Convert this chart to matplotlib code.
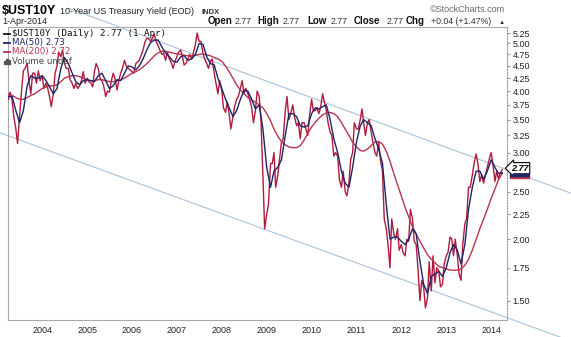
import numpy as np
import pandas as pd
import matplotlib
matplotlib.use("Agg")
import matplotlib.pyplot as plt
from matplotlib.lines import Line2D
from matplotlib.patches import Rectangle
from matplotlib.ticker import FixedLocator, FixedFormatter, NullLocator

plt.rcParams['font.family'] = ['Liberation Sans', 'DejaVu Sans']

# 10-year yield, sampled on the 1st and 15th of each month, Apr 2003 .. 1 Apr 2014
y2003 = [3.85, 3.98, 3.85, 3.55, 3.35, 3.13, 3.55, 3.95, 4.40, 4.45, 4.55, 4.20,
         3.95, 4.35, 4.35, 4.15, 4.40, 4.20]
y2004 = [4.30, 4.05, 4.15, 4.05, 3.90, 3.72, 3.95, 4.35, 4.50, 4.80, 4.70, 4.85,
         4.55, 4.45, 4.45, 4.22, 4.15, 4.05, 4.15, 4.05, 4.10, 4.20, 4.38, 4.15]
y2005 = [4.25, 4.18, 4.15, 4.08, 4.38, 4.55, 4.45, 4.25, 4.20, 4.10, 3.90, 4.00,
         3.98, 4.18, 4.35, 4.25, 4.02, 4.20, 4.35, 4.45, 4.62, 4.50, 4.45, 4.42]
y2006 = [4.38, 4.35, 4.55, 4.58, 4.62, 4.72, 4.85, 5.02, 5.12, 5.12, 5.05, 5.12,
         5.22, 5.05, 4.95, 4.85, 4.75, 4.78, 4.62, 4.80, 4.65, 4.58, 4.45, 4.58]
y2007 = [4.70, 4.80, 4.85, 4.70, 4.52, 4.55, 4.65, 4.75, 4.65, 4.78, 4.98, 5.25,
         5.05, 5.05, 4.78, 4.65, 4.55, 4.45, 4.60, 4.65, 4.35, 4.15, 3.95, 4.20]
y2008 = [4.02, 3.70, 3.62, 3.80, 3.60, 3.35, 3.55, 3.72, 3.85, 3.90, 4.05, 4.20,
         3.95, 4.05, 3.95, 3.85, 3.70, 3.45, 3.65, 4.00, 3.90, 3.50, 2.70, 2.10]
y2009 = [2.25, 2.35, 2.85, 2.85, 3.00, 2.55, 2.70, 2.90, 3.15, 3.20, 3.65, 3.90,
         3.50, 3.60, 3.75, 3.55, 3.40, 3.45, 3.20, 3.45, 3.45, 3.35, 3.25, 3.55]
y2010 = [3.85, 3.65, 3.65, 3.70, 3.60, 3.70, 3.95, 3.80, 3.65, 3.45, 3.30, 3.25,
         2.95, 3.00, 2.95, 2.65, 2.55, 2.75, 2.50, 2.45, 2.60, 2.90, 3.00, 3.45]
y2011 = [3.35, 3.35, 3.50, 3.68, 3.45, 3.25, 3.45, 3.50, 3.30, 3.15, 3.00, 2.95,
         3.15, 2.90, 2.75, 2.20, 2.10, 1.95, 1.75, 2.20, 2.05, 2.00, 2.10, 1.90]
y2012 = [1.95, 1.88, 1.85, 2.00, 1.98, 2.30, 2.20, 1.98, 1.95, 1.75, 1.50, 1.65,
         1.60, 1.45, 1.52, 1.80, 1.57, 1.85, 1.63, 1.75, 1.72, 1.60, 1.62, 1.78]
y2013 = [1.85, 1.88, 2.02, 2.00, 1.85, 2.00, 1.85, 1.70, 1.65, 1.95, 2.15, 2.20,
         2.55, 2.55, 2.70, 2.85, 2.98, 2.85, 2.62, 2.70, 2.60, 2.70, 2.80, 2.90]
y2014 = [3.00, 2.85, 2.62, 2.75, 2.65, 2.72, 2.77]
ust10y = y2003 + y2004 + y2005 + y2006 + y2007 + y2008 + y2009 + y2010 + y2011 + y2012 + y2013 + y2014

# moving averages, read monthly (1st of month), Apr 2003 .. Apr 2014
ma50 = [3.90, 3.90, 3.65, 3.45, 3.65, 4.10, 4.30, 4.25, 4.25,
        4.30, 4.20, 4.08, 3.95, 4.05, 4.45, 4.68, 4.55, 4.35, 4.18, 4.12, 4.20,
        4.22, 4.20, 4.18, 4.30, 4.35, 4.20, 4.05, 4.10, 4.22, 4.20, 4.35, 4.50,
        4.48, 4.42, 4.50, 4.65, 4.85, 5.02, 5.08, 5.08, 4.92, 4.78, 4.70, 4.60,
        4.58, 4.70, 4.72, 4.62, 4.65, 4.75, 5.00, 4.98, 4.70, 4.55, 4.52, 4.25,
        4.05, 3.85, 3.70, 3.55, 3.65, 3.85, 4.02, 4.00, 3.85, 3.68, 3.75, 3.35,
        2.80, 2.55, 2.75, 2.80, 2.90, 3.25, 3.60, 3.60, 3.55, 3.40, 3.38, 3.40,
        3.60, 3.70, 3.68, 3.72, 3.75, 3.50, 3.20, 3.00, 2.75, 2.60, 2.55, 2.80,
        3.15, 3.40, 3.50, 3.45, 3.40, 3.20, 3.05, 2.85, 2.35, 2.00, 2.02, 2.02,
        1.98, 1.95, 2.00, 2.10, 2.05, 1.80, 1.62, 1.55, 1.68, 1.70, 1.72, 1.68,
        1.75, 1.88, 1.95, 1.90, 1.78, 1.95, 2.30, 2.55, 2.75, 2.75, 2.65, 2.75,
        2.90, 2.80, 2.72, 2.73]
ma200 = [3.95, 3.92, 3.88, 3.85, 3.85, 3.88, 3.92, 3.95, 4.00,
         4.05, 4.08, 4.10, 4.10, 4.12, 4.18, 4.25, 4.28, 4.30, 4.30, 4.28, 4.25,
         4.22, 4.20, 4.20, 4.22, 4.22, 4.20, 4.18, 4.18, 4.20, 4.22, 4.25, 4.30,
         4.35, 4.38, 4.42, 4.48, 4.55, 4.63, 4.72, 4.78, 4.82, 4.82, 4.80, 4.78,
         4.76, 4.75, 4.73, 4.72, 4.72, 4.73, 4.75, 4.76, 4.74, 4.72, 4.68, 4.65,
         4.60, 4.50, 4.38, 4.25, 4.12, 4.02, 3.95, 3.88, 3.83, 3.80, 3.75, 3.70,
         3.60, 3.48, 3.35, 3.24, 3.16, 3.11, 3.08, 3.07, 3.07, 3.10, 3.18, 3.28,
         3.38, 3.46, 3.52, 3.58, 3.61, 3.62, 3.60, 3.55, 3.45, 3.35, 3.25, 3.15,
         3.08, 3.03, 3.02, 3.05, 3.10, 3.15, 3.16, 3.12, 3.02, 2.88, 2.72, 2.58,
         2.45, 2.32, 2.22, 2.12, 2.05, 1.98, 1.92, 1.86, 1.82, 1.79, 1.76, 1.75,
         1.74, 1.73, 1.73, 1.73, 1.74, 1.77, 1.82, 1.90, 2.00, 2.10, 2.20, 2.30,
         2.42, 2.53, 2.64, 2.72]

# trend channel anchors (date, yield)
upper_dates = ['2004-07-31', '2015-10-13']
upper_vals = [5.90, 2.48]
lower_dates = ['2003-01-24', '2015-07-15']
lower_vals = [3.29, 1.265]

ytick_vals = [1.50, 1.75, 2.00, 2.25, 2.50, 3.00, 3.25, 3.50, 3.75, 4.00, 4.25, 4.50, 4.75, 5.00, 5.25]
years = list(range(2004, 2015))

price_dates = pd.date_range('2003-04-01', periods=len(ust10y), freq='SMS')
ma_dates = pd.date_range('2003-04-01', periods=len(ma50), freq='MS')

W, H = 571, 337
fig = plt.figure(figsize=(W / 100, H / 100), dpi=100)
ax = fig.add_axes([8 / W, 1 - 320 / H, (507 - 8) / W, (320 - 27) / H])

ax.plot(price_dates, ust10y, color='#b01a3c', lw=1.0, zorder=3)
ax.plot(ma_dates, ma200, color='#b8334f', lw=1.0, zorder=4)
ax.plot(ma_dates, ma50, color='#1e2468', lw=1.0, zorder=5)

chan = '#a9c3dc'
ax.plot(pd.to_datetime(upper_dates), upper_vals, color=chan, lw=0.8, clip_on=False, zorder=2)
ax.plot(pd.to_datetime(lower_dates), lower_vals, color=chan, lw=0.8, clip_on=False, zorder=2)

ax.set_yscale('log')
ax.set_ylim(1.37, 5.40)
ax.set_xlim(pd.Timestamp('2003-03-29'), pd.Timestamp('2014-05-10'))
ax.yaxis.set_major_locator(FixedLocator(ytick_vals))
ax.yaxis.set_major_formatter(FixedFormatter(['%.2f' % v for v in ytick_vals]))
ax.yaxis.set_minor_locator(NullLocator())
ax.yaxis.tick_right()
ax.tick_params(axis='y', labelsize=6.5, length=2, pad=2, color='#999999', labelcolor='#222222')

ax.set_xticks([pd.Timestamp('%d-01-01' % y) for y in years])
ax.set_xticklabels([str(y) for y in years])
ax.xaxis.set_minor_locator(NullLocator())
ax.tick_params(axis='x', labelsize=6.5, length=0, pad=4, labelcolor='#222222')

for s in ['left', 'bottom', 'top']:
    ax.spines[s].set_color('#aaaaaa')
    ax.spines[s].set_linewidth(0.8)
ax.spines['right'].set_color('#999999')
ax.spines['right'].set_linestyle((0, (1, 1.5)))
ax.spines['right'].set_linewidth(0.8)

# last value tag, with the two MA tags peeking out below it
fig.add_artist(Rectangle((510 / W, 1 - 178 / H), 19 / W, 2 / H, color='#b8334f',
                         transform=fig.transFigure, zorder=6))
fig.add_artist(Rectangle((510 / W, 1 - 176 / H), 19 / W, 2.5 / H, color='#1e2468',
                         transform=fig.transFigure, zorder=6))
ax.annotate('2.77', xy=(1.0, 2.77), xycoords=('axes fraction', 'data'), xytext=(3, 1),
            textcoords='offset points', ha='left', va='center', fontsize=6.5,
            fontstyle='italic', fontweight='bold', color='black',
            bbox=dict(boxstyle='larrow,pad=0.12', fc='white', ec='black', lw=0.8), zorder=8,
            annotation_clip=False)


def ftxt(x, y, s, **kw):
    fig.text(x / W, 1 - y / H, s, va='baseline', **kw)


# header
ftxt(2, 14, '$UST10Y', fontsize=9, fontweight='bold')
ftxt(60, 14, '10-Year US Treasury Yield (EOD)', fontsize=6.5, color='#222222')
ftxt(202, 14, 'INDX', fontsize=5.5, fontweight='bold', color='#333333')
ftxt(2, 24.5, '1-Apr-2014', fontsize=6.5, color='#222222')
ftxt(505, 12, '\u00a9StockCharts.com', fontsize=6.5, color='#666666', ha='right')

pieces = [(208, 'Open', True), (235, '2.77', False), (257, 'High', True), (283, '2.77', False),
          (307, 'Low', True), (331, '2.77', False), (354, 'Close', True), (387, '2.77', False),
          (406, 'Chg', True), (431, '+0.04 (+1.47%)', False), (499, '\u25b2', False)]
for x, s, b in pieces:
    ftxt(x, 24.5, s, fontsize=7 if b else 6.3 if s != '\u25b2' else 4.5,
         fontweight='bold' if b else 'normal', color='#111111' if b else '#333333')

# legend
legend_rows = [(36, '#111111', '$UST10Y (Daily) 2.77 (1 Apr)', 'DejaVu Sans Mono', '#111111', 6.6),
               (45, '#1e2468', 'MA(50) 2.73', 'DejaVu Sans', '#1e2468', 6.2),
               (54, '#b8334f', 'MA(200) 2.72', 'DejaVu Sans', '#b8334f', 6.2)]
for y, c, s, fam, tc, fs in legend_rows:
    fig.add_artist(Line2D([4 / W, 10 / W], [1 - (y - 2.5) / H] * 2, color=c, lw=1.3,
                          transform=fig.transFigure))
    ftxt(12, y, s, fontsize=fs, family=fam, color=tc)
for i, h in enumerate([3, 5, 4]):
    fig.add_artist(Rectangle(((4 + i * 2.2) / W, 1 - 64 / H), 1.5 / W, h / H,
                             color='#555555', transform=fig.transFigure))
ftxt(12, 64, 'Volume undef', fontsize=6.2, family='DejaVu Sans', color='#444444')

fig.savefig('out.png', dpi=100)
